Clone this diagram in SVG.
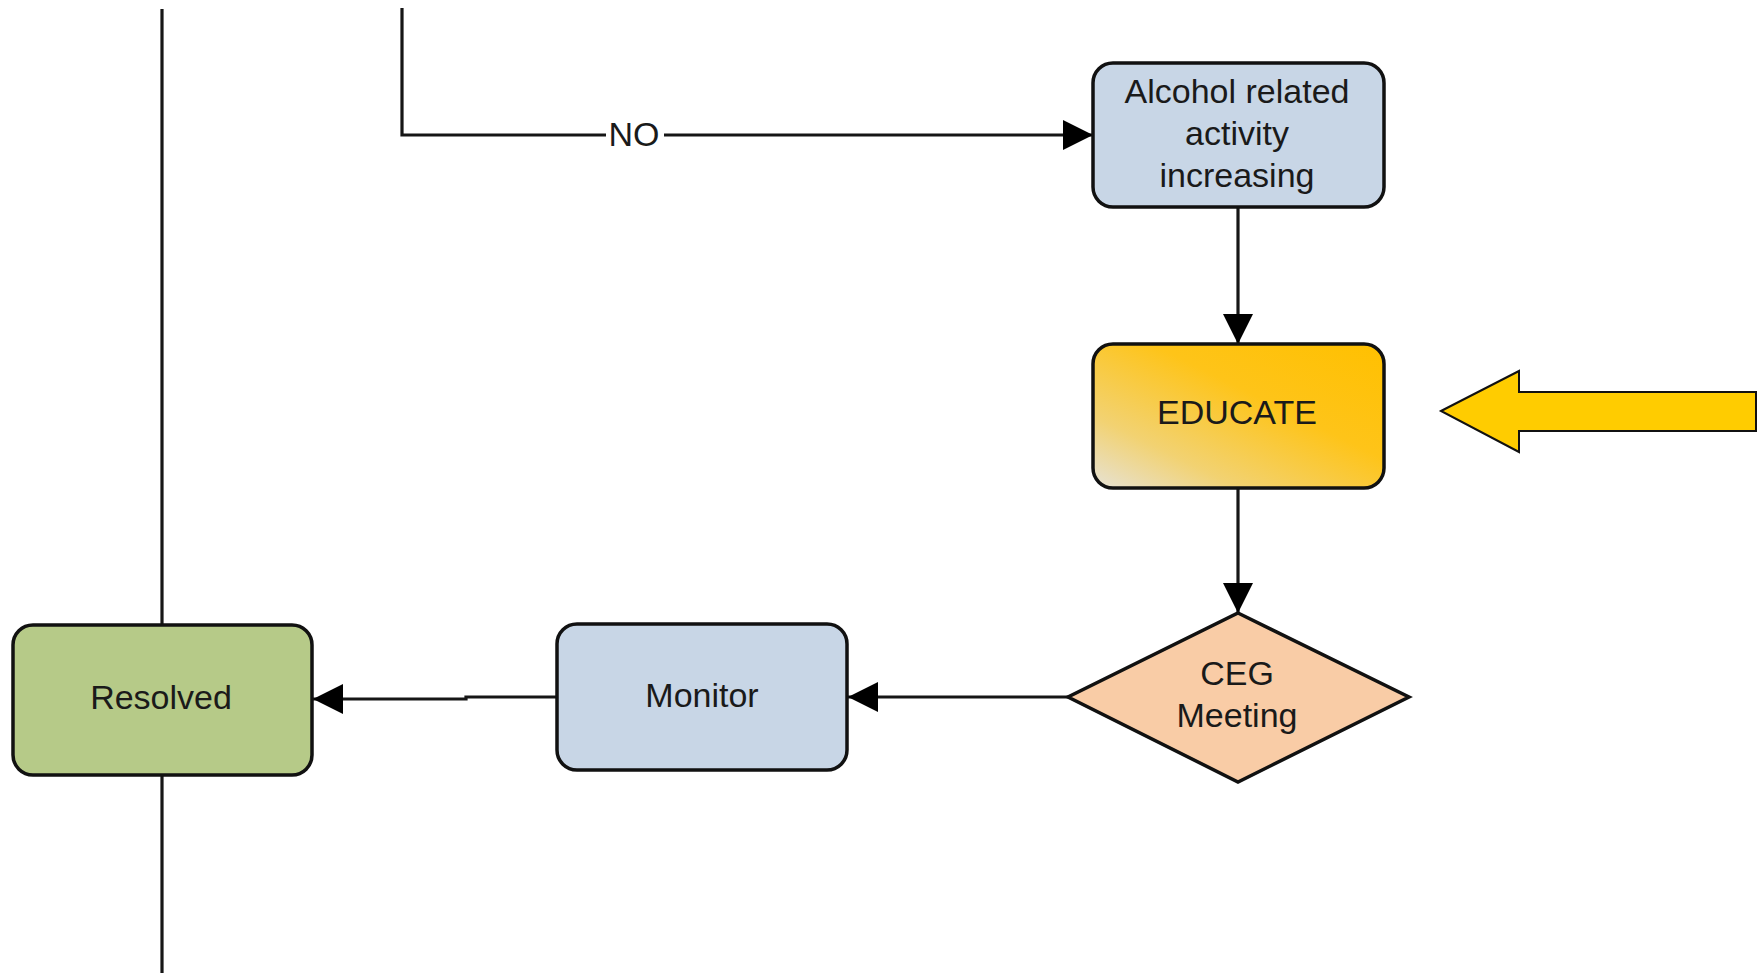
<svg xmlns="http://www.w3.org/2000/svg" width="1762" height="973" viewBox="0 0 1762 973">
  <style>
    .box { stroke: #111; stroke-width: 3.5; }
    .blue { fill: #C8D6E6; }
    .green { fill: #B6CA88; }
    .peach { fill: #F9CCA6; }
    .lbl { font-family: "Liberation Sans", Arial, sans-serif; font-size: 34px; fill: #1a1a1a; text-anchor: middle; }
    .wire { fill: none; stroke: #161616; stroke-width: 3.2; }
  </style>
  <defs>
    <marker id="head" viewBox="0 0 30 30" refX="30" refY="15" markerWidth="30" markerHeight="30" markerUnits="userSpaceOnUse" orient="auto">
      <path d="M0,0 L30,15 L0,30 Z" fill="#000"/>
    </marker>
    <linearGradient id="goldFill" x1="0" y1="1" x2="1" y2="0">
      <stop offset="0" stop-color="#E6E2D6"/>
      <stop offset="0.25" stop-color="#F2D272"/>
      <stop offset="0.6" stop-color="#FEC419"/>
      <stop offset="1" stop-color="#FFC000"/>
    </linearGradient>
  </defs>

  <rect width="1762" height="973" fill="#fff"/>

  <!-- connectors -->
  <g id="connectors">
    <path class="wire" d="M162,9 V625"/>
    <path class="wire" d="M162,775 V973"/>
    <path class="wire" d="M402,8 V135 H1093" marker-end="url(#head)"/>
    <path class="wire" d="M1238,207 V344" marker-end="url(#head)"/>
    <path class="wire" d="M1238,488 V613" marker-end="url(#head)"/>
    <path class="wire" d="M1068,697 H848" marker-end="url(#head)"/>
    <path class="wire" d="M557,697 H466 V699 H313" marker-end="url(#head)"/>
    <rect x="606" y="118" width="58" height="34" fill="#fff"/>
    <text class="lbl" x="634" y="146">NO</text>
  </g>

  <g id="alcohol">
    <rect class="box blue" x="1093" y="63" width="291" height="144" rx="20"/>
    <text class="lbl" x="1237" y="103">Alcohol related</text>
    <text class="lbl" x="1237" y="145">activity</text>
    <text class="lbl" x="1237" y="187">increasing</text>
  </g>

  <g id="educate">
    <rect class="box" fill="url(#goldFill)" x="1093" y="344" width="291" height="144" rx="20"/>
    <text class="lbl" x="1237" y="424">EDUCATE</text>
  </g>

  <g id="ceg">
    <polygon class="box peach" points="1238,613 1409,697 1238,782 1068,697"/>
    <text class="lbl" x="1237" y="685">CEG</text>
    <text class="lbl" x="1237" y="727">Meeting</text>
  </g>

  <g id="monitor">
    <rect class="box blue" x="557" y="624" width="290" height="146" rx="20"/>
    <text class="lbl" x="702" y="707">Monitor</text>
  </g>

  <g id="resolved">
    <rect class="box green" x="13" y="625" width="299" height="150" rx="20"/>
    <text class="lbl" x="161" y="709">Resolved</text>
  </g>

  <g id="pointer">
    <polygon points="1441,411 1519,371 1519,392 1756,392 1756,431 1519,431 1519,452" fill="#FFCC00" stroke="#111" stroke-width="2"/>
  </g>
</svg>
